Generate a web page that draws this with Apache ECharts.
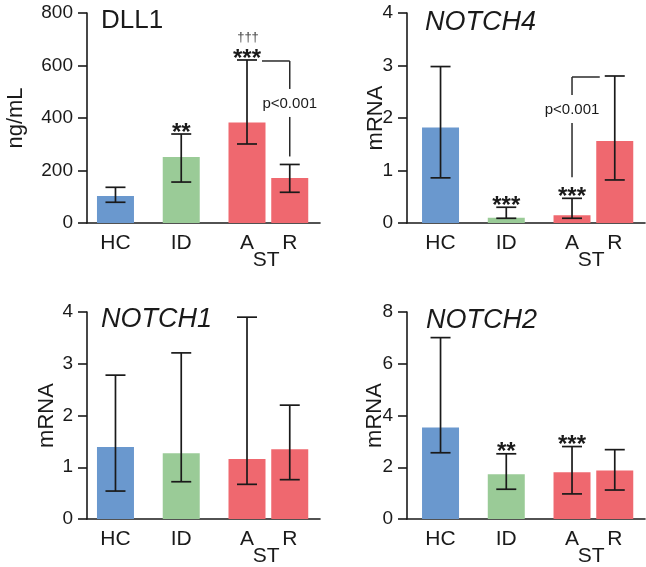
<!DOCTYPE html>
<html>
<head>
<meta charset="utf-8">
<script src="https://cdn.jsdelivr.net/npm/echarts@6/dist/echarts.min.js"></script>
<style>
  html, body { margin: 0; padding: 0; background: #ffffff; }
  #chart { width: 646px; height: 567px; }
</style>
</head>
<body>
<div id="chart"></div>
<script>
// ---------------- data ----------------
const categories = ['HC', 'ID', 'A', 'R'];
const subCategory = 'ST';

const dll1Mean = [103, 251, 383, 171];
const dll1Low = [79, 156, 301, 117];
const dll1High = [136, 339, 621, 223];
const dll1Stars = ['', '**', '***', ''];
const dll1Daggers = ['', '', '†††', ''];

const notch4Mean = [1.82, 0.10, 0.15, 1.56];
const notch4Low = [0.86, 0.09, 0.09, 0.82];
const notch4High = [2.98, 0.30, 0.47, 2.80];
const notch4Stars = ['', '***', '***', ''];

const notch1Mean = [1.39, 1.27, 1.16, 1.35];
const notch1Low = [0.54, 0.72, 0.67, 0.76];
const notch1High = [2.78, 3.21, 3.90, 2.20];
const notch1Stars = ['', '', '', ''];

const notch2Mean = [3.54, 1.73, 1.81, 1.87];
const notch2Low = [2.56, 1.15, 0.97, 1.12];
const notch2High = [7.01, 2.52, 2.80, 2.68];
const notch2Stars = ['', '**', '***', ''];

const pText = 'p<0.001';

const yMaxes = [800, 4, 4, 8];
const yIntervals = [200, 1, 1, 2];

// ---------------- layout / style ----------------
const FONT = '"Liberation Sans", Arial, Helvetica, sans-serif';
const INK = '#1a1a1a';
const groupColors = ['#6A98CE', '#9ACB97', '#EF686F', '#EF686F'];
const slots = [0, 1, 2, 2.65];       // horizontal slot of each group on the x axis
const subSlot = 2.29;                 // slot of the "ST" sub label

const panels = [
  { title: 'DLL1', italic: false, yName: 'ng/mL', mean: dll1Mean, low: dll1Low, high: dll1High, stars: dll1Stars, daggers: dll1Daggers, bracket: { textFrac: 0.45 } },
  { title: 'NOTCH4', italic: true, yName: 'mRNA', mean: notch4Mean, low: notch4Low, high: notch4High, stars: notch4Stars, daggers: null, bracket: { textFrac: 0.33 } },
  { title: 'NOTCH1', italic: true, yName: 'mRNA', mean: notch1Mean, low: notch1Low, high: notch1High, stars: notch1Stars, daggers: null, bracket: null },
  { title: 'NOTCH2', italic: true, yName: 'mRNA', mean: notch2Mean, low: notch2Low, high: notch2High, stars: notch2Stars, daggers: null, bracket: null }
];

const grids = [
  { left: 87, top: 13, width: 233, height: 210 },
  { left: 407, top: 13, width: 238, height: 210 },
  { left: 87, top: 312, width: 233, height: 210 },
  { left: 407, top: 312, width: 238, height: 210 }
];
const xMins = [-0.433, -0.51, -0.433, -0.51];
const xMax = 3.11;
const nameGaps = [60, 20, 29, 21];
const titlePos = [
  { left: 101, top: 8 },
  { left: 425, top: 9 },
  { left: 101, top: 306 },
  { left: 426, top: 307 }
];

function labelFor(value) {
  for (let k = 0; k < slots.length; k++) {
    if (Math.abs(slots[k] - value) < 1e-6) return categories[k];
  }
  if (Math.abs(subSlot - value) < 1e-6) return '\n' + subCategory;
  return '';
}

const option = {
  backgroundColor: '#ffffff',
  animation: false,
  title: panels.map((p, i) => ({
    text: p.title,
    left: titlePos[i].left,
    top: titlePos[i].top,
    padding: 0,
    textStyle: { fontFamily: FONT, fontSize: p.italic ? 27 : 26, fontWeight: 'normal', fontStyle: p.italic ? 'italic' : 'normal', color: INK }
  })),
  grid: grids.map(g => Object.assign({ containLabel: false }, g)),
  xAxis: panels.map((p, i) => ({
    type: 'value',
    gridIndex: i,
    min: xMins[i],
    max: xMax,
    splitLine: { show: false },
    axisLine: { show: true, onZero: false, lineStyle: { color: INK, width: 1.6 } },
    axisTick: { show: false },
    axisLabel: {
      show: true,
      customValues: slots.concat([subSlot]),
      formatter: labelFor,
      fontFamily: FONT,
      fontSize: 21,
      lineHeight: 17,
      color: INK,
      margin: 12
    }
  })),
  yAxis: panels.map((p, i) => ({
    type: 'value',
    gridIndex: i,
    min: 0,
    max: yMaxes[i],
    interval: yIntervals[i],
    name: p.yName,
    nameLocation: 'middle',
    nameGap: nameGaps[i],
    nameMoveOverlap: false,
    nameTextStyle: { fontFamily: FONT, fontSize: 22, color: INK },
    splitLine: { show: false },
    axisLine: { show: true, onZero: false, lineStyle: { color: INK, width: 1.6 } },
    axisTick: { show: true, length: 9, lineStyle: { color: INK, width: 1.6 } },
    axisLabel: { fontFamily: FONT, fontSize: 19, color: INK, margin: 14 }
  })),
  series: []
};

panels.forEach((p, i) => {
  // bars
  option.series.push({
    type: 'bar',
    xAxisIndex: i,
    yAxisIndex: i,
    barWidth: 37,
    data: p.mean.map((v, k) => [slots[k], v]),
    itemStyle: { color: (params) => groupColors[params.dataIndex] },
    z: 2
  });
  // error bars
  option.series.push({
    type: 'custom',
    xAxisIndex: i,
    yAxisIndex: i,
    data: p.mean.map((v, k) => [slots[k], p.low[k], p.high[k]]),
    encode: { x: 0, y: [1, 2] },
    z: 3,
    renderItem: function (params, api) {
      const x = api.value(0);
      const lo = api.coord([x, api.value(1)]);
      const hi = api.coord([x, api.value(2)]);
      const hw = 10;
      const st = { stroke: INK, lineWidth: 1.7 };
      return {
        type: 'group',
        children: [
          { type: 'line', shape: { x1: lo[0], y1: lo[1], x2: hi[0], y2: hi[1] }, style: st },
          { type: 'line', shape: { x1: hi[0] - hw, y1: hi[1], x2: hi[0] + hw, y2: hi[1] }, style: st },
          { type: 'line', shape: { x1: lo[0] - hw, y1: lo[1], x2: lo[0] + hw, y2: lo[1] }, style: st }
        ]
      };
    }
  });
  // significance stars (and daggers)
  option.series.push({
    type: 'custom',
    xAxisIndex: i,
    yAxisIndex: i,
    data: p.mean.map((v, k) => [slots[k], p.high[k], k]),
    encode: { x: 0, y: 1 },
    z: 4,
    clip: false,
    renderItem: function (params, api) {
      const k = api.value(2);
      const c = api.coord([api.value(0), api.value(1)]);
      const children = [];
      if (p.stars[k]) {
        children.push({
          type: 'text',
          x: c[0],
          y: c[1] + 11,
          style: { text: p.stars[k], fontFamily: FONT, fontSize: 24, fontWeight: 'bold', fill: INK, align: 'center', verticalAlign: 'bottom' }
        });
      }
      if (p.daggers && p.daggers[k]) {
        children.push({
          type: 'text',
          x: c[0] + 1,
          y: c[1] - 16,
          style: { text: p.daggers[k], fontFamily: FONT, fontSize: 13, fill: '#444', align: 'center', verticalAlign: 'bottom' }
        });
      }
      return { type: 'group', children: children };
    }
  });
  // bracket with p-value between A and R
  if (p.bracket) {
    const a = 2, r = 3;
    const highIdx = p.high[a] >= p.high[r] ? a : r;
    const lowIdx = highIdx === a ? r : a;
    const frac = p.bracket.textFrac;
    option.series.push({
      type: 'custom',
      xAxisIndex: i,
      yAxisIndex: i,
      data: [[slots[highIdx], p.high[highIdx], slots[lowIdx], p.high[lowIdx], p.stars[lowIdx] ? 1 : 0]],
      encode: { x: [0, 2], y: [1, 3] },
      z: 4,
      clip: false,
      renderItem: function (params, api) {
        const hc = api.coord([api.value(0), api.value(1)]);
        const lc = api.coord([api.value(2), api.value(3)]);
        const dir = hc[0] < lc[0] ? 1 : -1;
        const top = hc[1] + 1;
        const bottom = lc[1] - (api.value(4) ? 21 : 8);
        const ty = top + frac * (bottom - top);
        const st = { stroke: '#2a2a2a', lineWidth: 1.5 };
        return {
          type: 'group',
          children: [
            { type: 'line', shape: { x1: hc[0] + dir * 15, y1: top, x2: lc[0], y2: top }, style: st },
            { type: 'line', shape: { x1: lc[0], y1: top, x2: lc[0], y2: ty - 15 }, style: st },
            { type: 'line', shape: { x1: lc[0], y1: ty + 13, x2: lc[0], y2: bottom }, style: st },
            { type: 'text', x: lc[0], y: ty, style: { text: pText, fontFamily: FONT, fontSize: 15, fill: INK, align: 'center', verticalAlign: 'middle' } }
          ]
        };
      }
    });
  }
});

const chart = echarts.init(document.getElementById('chart'), null, { renderer: 'canvas', width: 646, height: 567 });
chart.setOption(option);
</script>
</body>
</html>
